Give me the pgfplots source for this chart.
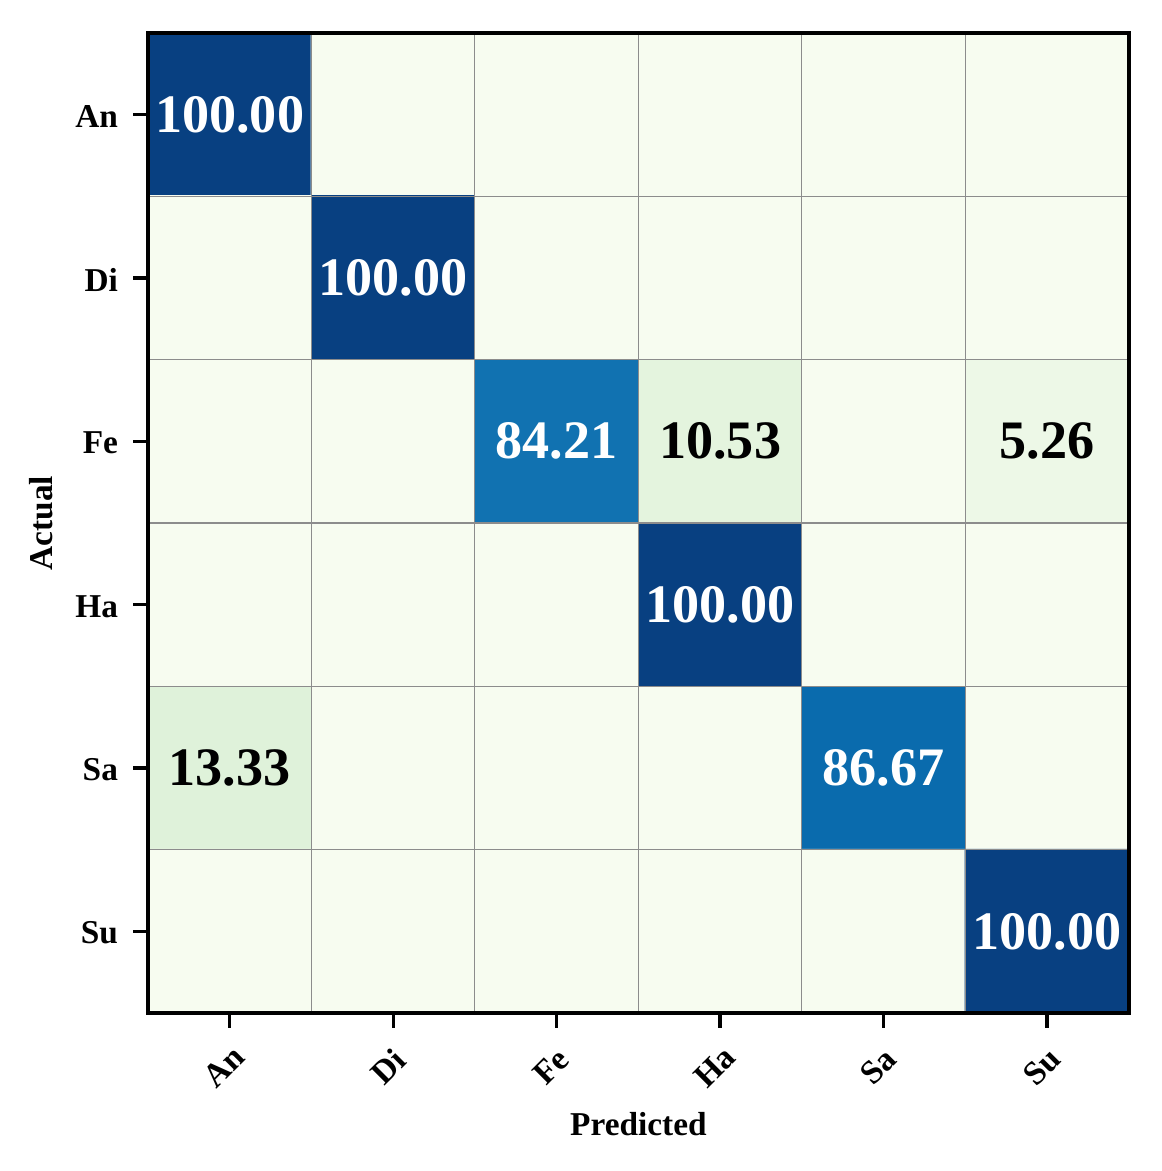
\documentclass[border=0pt]{standalone}
\usepackage{fontspec}
\setmainfont{Liberation Serif}
\usepackage{pgfplots}
\pgfplotsset{compat=1.18}
\begin{document}
\begin{tikzpicture}
\begin{axis}[
  scale only axis,
  width=235.4pt, height=235.2pt,
  xmin=-0.5, xmax=5.5, ymin=-0.5, ymax=5.5,
  y dir=reverse,
  axis on top,
  colormap={gnbu}{rgb255=(247,252,240) rgb255=(224,243,219) rgb255=(204,235,197) rgb255=(168,221,181) rgb255=(123,204,196) rgb255=(78,179,211) rgb255=(43,140,190) rgb255=(8,104,172) rgb255=(8,64,129)},
  point meta min=0, point meta max=100,
  xtick={0,1,2,3,4,5}, ytick={0,1,2,3,4,5},
  xticklabels={An,Di,Fe,Ha,Sa,Su},
  yticklabels={An,Di,Fe,Ha,Sa,Su},
  minor xtick={0.5,1.5,2.5,3.5,4.5},
  minor ytick={0.5,1.5,2.5,3.5,4.5},
  xminorgrids, yminorgrids,
  minor grid style={draw=black!45, line width=0.25pt},
  minor tick length=0pt,
  tick align=outside, tick pos=left,
  major tick length=3.5pt,
  every tick/.style={black, line width=0.8pt},
  axis line style={line width=0.8pt},
  tick label style={font=\fontsize{8}{9}\selectfont\bfseries},
  xticklabel style={anchor=center, xshift=-1.3pt, yshift=-9.4pt, rotate=45},
  yticklabel style={inner sep=0pt, xshift=-3.5pt, yshift=-0.4pt},
  xlabel={Predicted}, ylabel={Actual},
  label style={font=\fontsize{8}{9}\selectfont\bfseries},
  xlabel style={at={(axis description cs:0.5,-0.113)}, anchor=center},
  ylabel style={at={(axis description cs:-0.109,0.5)}, anchor=center},
]
\addplot[matrix plot*, mesh/cols=6, point meta=explicit] table[meta=z] {
x y z
0 0 100
1 0 0
2 0 0
3 0 0
4 0 0
5 0 0
0 1 0
1 1 100
2 1 0
3 1 0
4 1 0
5 1 0
0 2 0
1 2 0
2 2 84.21
3 2 10.53
4 2 0
5 2 5.26
0 3 0
1 3 0
2 3 0
3 3 100
4 3 0
5 3 0
0 4 13.33
1 4 0
2 4 0
3 4 0
4 4 86.67
5 4 0
0 5 0
1 5 0
2 5 0
3 5 0
4 5 0
5 5 100
};
\addplot[draw=none, mark=none, nodes near coords, point meta=explicit symbolic,
  nodes near coords style={anchor=center, text=white, font=\fontsize{13}{15}\selectfont\bfseries}]
  table[meta=label] {
x y label
0 0 100.00
1 1 100.00
2 2 84.21
3 3 100.00
4 4 86.67
5 5 100.00
};
\addplot[draw=none, mark=none, nodes near coords, point meta=explicit symbolic,
  nodes near coords style={anchor=center, text=black, font=\fontsize{13}{15}\selectfont\bfseries}]
  table[meta=label] {
x y label
3 2 10.53
5 2 5.26
0 4 13.33
};
\end{axis}
\path ([shift={(-35.5pt,-37.9pt)}]current axis.south west) rectangle ([shift={(7.9pt,7.9pt)}]current axis.north east);
\end{tikzpicture}
\end{document}
